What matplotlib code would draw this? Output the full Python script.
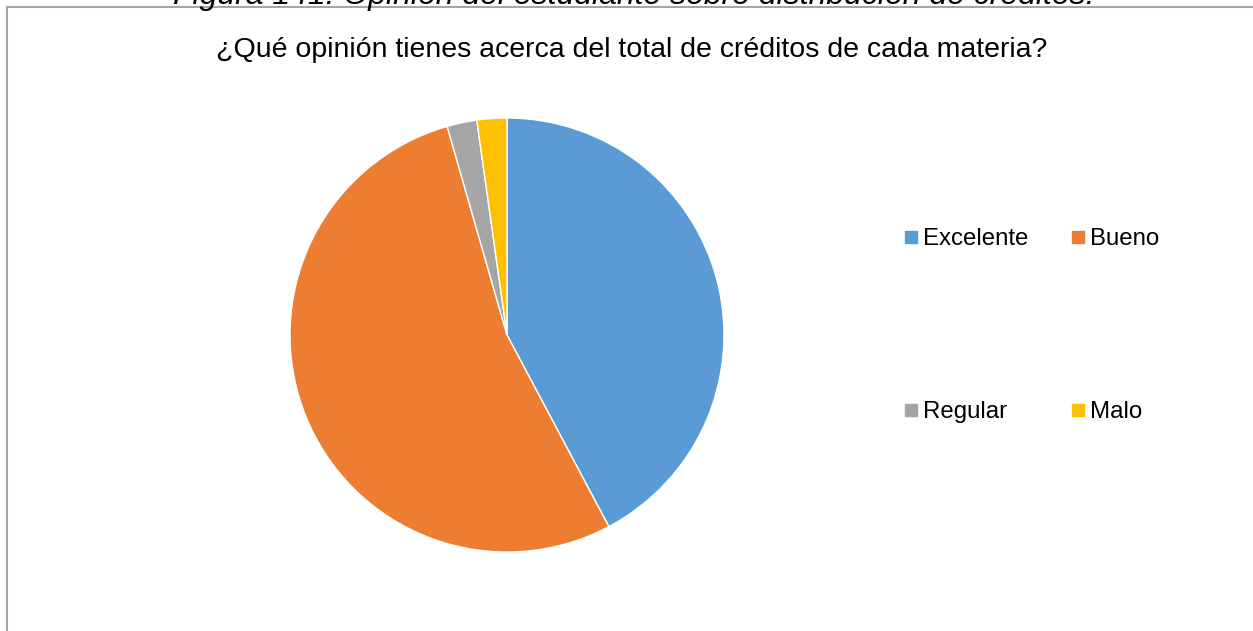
import matplotlib.pyplot as plt
from matplotlib.patches import Rectangle
from matplotlib.lines import Line2D

plt.rcParams['font.family'] = ['Liberation Sans', 'DejaVu Sans']

# datos de la encuesta
categorias = ['Excelente', 'Bueno', 'Regular', 'Malo']
respuestas = [19, 24, 1, 1]
colores = ['#5B9BD5', '#ED7D31', '#A5A5A5', '#FFC000']

titulo = '¿Qué opinión tienes acerca del total de créditos de cada materia?'
leyenda_fig = 'Figura 141: Opinión del estudiante sobre distribución de créditos.'

fig = plt.figure(figsize=(12.53, 6.31), dpi=100)

# marco del grafico (se sale por la derecha y abajo)
fig.patches.append(Rectangle((7/1253, -0.1), 1.1, 1 - 7/631 + 0.1,
                             transform=fig.transFigure, fill=False,
                             edgecolor='#A6A6A6', linewidth=1.5))

# pie de figura recortado arriba
fig.text(0.506, 1 - 4/631, leyenda_fig, ha='center', va='baseline',
         fontsize=23, style='italic', color='black')

fig.text(0.504, 1 - 50/631, titulo, ha='center', va='center', fontsize=20.5)

# pastel: centro (507,335), radio 217 px
r = 217
ax = fig.add_axes([(507 - r)/1253, (631 - 335 - r)/631, 2*r/1253, 2*r/631])
ax.pie(respuestas, colors=colores, startangle=90, counterclock=False,
       wedgeprops=dict(edgecolor='white', linewidth=1))
ax.set_xlim(-1, 1)
ax.set_ylim(-1, 1)
ax.set_aspect('auto')
ax.axis('off')

# leyenda (orden por filas)
handles = [Line2D([], [], marker='s', linestyle='none', markersize=9,
                  markerfacecolor=c, markeredgecolor=c) for c in colores]
orden = [0, 2, 1, 3]
fig.legend([handles[i] for i in orden], [categorias[i] for i in orden],
           ncol=2, loc='upper left',
           bbox_to_anchor=(892/1253, 1 - 216/631), frameon=False,
           fontsize=17.3, handlelength=0.6, handletextpad=0.2,
           labelspacing=6.3, columnspacing=1.75, borderpad=0)

fig.savefig('out.png', dpi=100)
